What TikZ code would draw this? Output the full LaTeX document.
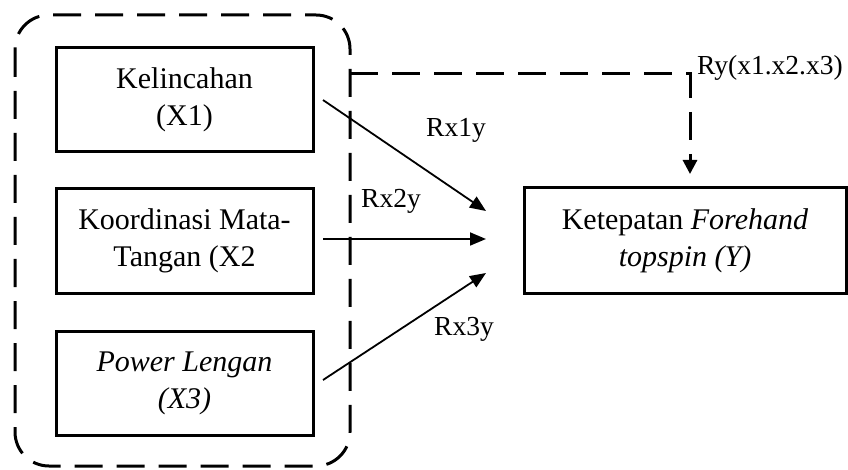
\documentclass[tikz,border=0pt]{standalone}
\usepackage{fontspec}
\setmainfont{Liberation Serif}
\usetikzlibrary{arrows.meta}
\begin{document}
\begin{tikzpicture}[x=1pt,y=-1pt,
  box/.style={draw,line width=3pt,minimum width=257pt,minimum height=104pt,align=center,inner sep=0pt,font=\fontsize{30}{37}\selectfont},
  conn/.style={line width=1.8pt,-{Triangle[length=16pt,width=13pt]}},
  dsh/.style={line width=3pt,dash pattern=on 28pt off 14pt},
  lbl/.style={font=\fontsize{27.5}{33}\selectfont,inner sep=0pt}]
\useasboundingbox (0,0) rectangle (848,470);
\draw[dsh,rounded corners=34pt] (15,15) rectangle (350,466);
\node[box] (x1) at (184.5,99.5) {Kelincahan\\(X1)};
\node[box] (x2) at (184.5,241) {Koordinasi Mata-\\Tangan (X2};
\node[box] (x3) at (184.5,383.5) {\itshape Power Lengan\\\itshape (X3)};
\node[box,minimum width=322pt,minimum height=105pt] (y) at (685,240.5) {Ketepatan \textit{Forehand}\\\textit{topspin (Y)}};
\coordinate (s1) at (323,100);
\coordinate (s2) at (323,239);
\coordinate (s3) at (323,380);
\coordinate (t1) at (486,211);
\coordinate (t2) at (486,239);
\coordinate (t3) at (486,273);
\draw[conn] (s1) -- (t1);
\draw[conn] (s2) -- (t2);
\draw[conn] (s3) -- (t3);
\coordinate (d0) at (350,74);
\coordinate (d1) at (690,74);
\draw[dsh,line width=3pt] (d0) -- (d1) -- (690,155);
\draw[line width=3pt,-{Triangle[length=14pt,width=14pt]}] (690,155) -- (690,174);
\node[lbl,anchor=base west] (l1) at (426,137) {Rx1y};
\node[lbl,anchor=base west] (l2) at (361,208) {Rx2y};
\node[lbl,anchor=base west] (l3) at (434,335) {Rx3y};
\node[lbl,anchor=base west] (l4) at (697,75) {Ry(x1.x2.x3)};
\end{tikzpicture}
\end{document}
